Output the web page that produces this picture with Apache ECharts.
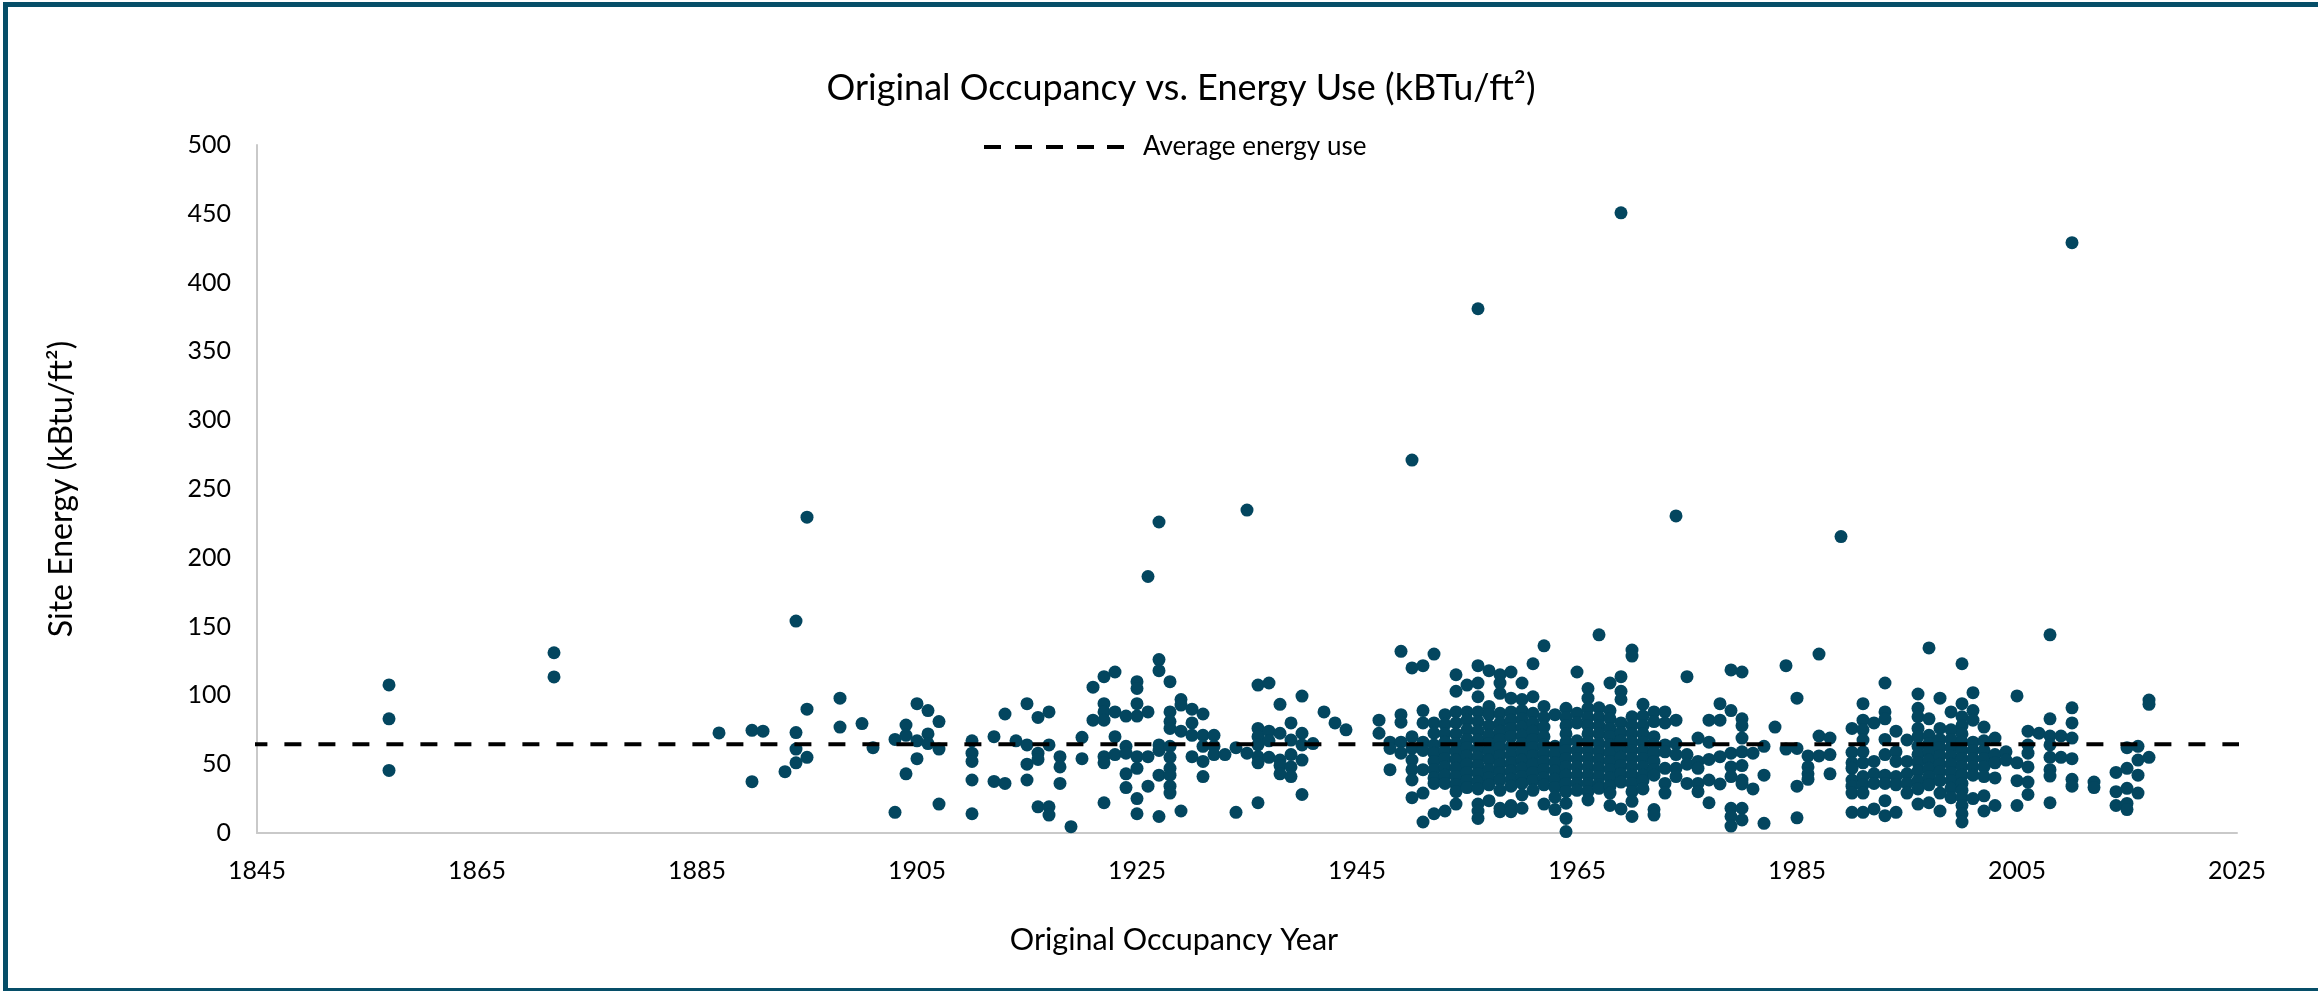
<!DOCTYPE html>
<html><head><meta charset="utf-8">
<style>html,body{margin:0;padding:0;background:#fff;overflow:hidden}#c{width:2318px;height:991px}</style>
<script src="https://cdn.jsdelivr.net/npm/echarts@6/dist/echarts.min.js"></script>
</head><body><div id="c"></div>
<script>
const chartTitle = 'Original Occupancy vs. Energy Use (kBTu/ft²)';
const xTitle = 'Original Occupancy Year';
const yTitle = 'Site Energy (kBtu/ft²)';
const legendLabel = 'Average energy use';
const xTicks = [1845,1865,1885,1905,1925,1945,1965,1985,2005,2025];
const averageEnergy = 64.5;
const averageSpan = [1844.4, 2027];
const occupancyYears = [1857,1872,1887,1890,1891,1893,1894,1895,1898,1900,1901,1903,1904,1905,1906,1907,1910,1912,1913,1914,1915,1916,1917,1918,1919,1920,1921,1922,1923,1924,1925,1926,1927,1928,1929,1930,1931,1932,1933,1934,1935,1936,1937,1938,1939,1940,1941,1942,1943,1944,1947,1948,1949,1950,1951,1952,1953,1954,1955,1956,1957,1958,1959,1960,1961,1962,1963,1964,1965,1966,1967,1968,1969,1970,1971,1972,1973,1974,1975,1976,1977,1978,1979,1980,1981,1982,1983,1984,1985,1986,1987,1988,1989,1990,1991,1992,1993,1994,1995,1996,1997,1998,1999,2000,2001,2002,2003,2004,2005,2006,2007,2008,2009,2010,2012,2014,2015,2016,2017];
const energyByYear = [
[107.6,83,45.5],[131,113.4],[72.7],[74.6,37.3],[74],[44.6],[154,73,61,51],[229.5,90,55],[98,77],[79.5],[62],
[68,15],[78.5,71,43],[94,67,54],[89,72,65],[81,61,21],
[67,58,52,38.5,14],[70,37.5],[86.5,36],[67],[94,64,50,38.5],[84,58,53.5,19],[88,64,19,13],[55.5,48,36],[4.6],[69.5,54],
[106,82],[113.6,94,88,82,55.5,51,22],[117,88,70,57],[85,63,58,43,33],[110,105,94,85,55.5,47,25,14],[186.4,88,55.5,34],
[226,126,118,64,60,42,12],[110,88,81,76,63,55,47,42,34,29],[97,93,74,16],[90,80,71,55.5],[86.5,71,63,52,41],[71,63,57],[57],[62,15],[234.7,58],
[107.5,76,70,64,55.5,51,22],[109,74,67,55],[93.5,72.5,53,49,43],[80,67.5,57,48,41],[99.5,72.5,64,53,28],[65],[88],[80],[75],
[82,72.5],[66,61.5,46],[132,86,80.5,66,58],[271,120,70,61.5,53,46,38.5,25.7],[121.6,89,80,66,60,46,29,8],[130,80,72.5,64,58,52,46,40,36,14],
[86,79,72,66,60,54,48,42,36,16],[115,103,88,80,72,65,59,53,47,41,35,30,21],[107.5,88,82,75,68,62,56,50,44,38,33],
[381,121.6,109,99,88,81,74,67.6,61,55,49,43,37,32,21,16,10.6],[118,92,86,78,71,65,59,53,46,40,35,23.5],[115,109,101.5,87,80,74,68,62,56,50,44,38.5,31,18,15.5],
[117,98,88,82,76,70,63,57,51,45,39,34,20,15.5],[109,97,89,83,77,71,65,59,53,47,41,36,27.6,18],[123,99,87,80,74,68,62,56,50,44,38,31],[136,92,84,77,70,64,58,52,46,40,35,21],
[86,63,57,51,45,39,33,26,17],[90.6,84,78,72,66,60,54,48,42,36,30,21.6,10.6,1],[117,87,80,67,60,54,48,42,36,31],[105,98,90.6,84,78,72,66,60,54,48,42,36,30,24],
[144,91,84,78,72,65,59,53,47,41,35,32.5],[109,89,83,76,70,64,58,52,46,40,34,29,20],[450.7,113.6,103,97,80,73,67,61,55,49,43,37,17.5],[133,128.6,84.5,78,72,66,60,54,48,42,36,30,23,12],
[93.5,85,78,72,66,60,54,48,42,38,32],[88,81,70,64,58,52,46,42,17,13],[88,80,64,59,47,36,29],[230.4,82,65,57,47,41],[113.6,57,50,36],[69,52,47,36,30],
[82,66,53.5,38.5,22],[94,82,55.5,35.6],[118.5,89,58,48,41,18,12,5],[117,83,78,69,59,49,38.5,35.6,18,9.5],[58,32],[63,42,7],[77],
[121.6,61],[98,61.5,34,11],[56,48,43,39],[130,70.5,56],[69,57,43],[215.4],[76,58.6,51,47,38.5,34,29,15],
[94,82,75,67.6,59,51,41,35,29,15],[80,52,43,36,17.5],[109,88,83,68,57,42,36,23.5,12.6],[74,59,52,41,35,15],[67.6,52,43,36,29],
[101,90.6,84.5,76,70,63,57,51,45,38,32,21],[134.5,83,71,65,59,53,47,41,35,22],[98,76,68,62,56,50,44.6,38,29,16],[88,75,68,62,56,50,44,38,32.5,25.7],
[123,94,84.5,78,72,66,60,54,48,42,36,31,26,20,14,8],[102,89,82,66,60,54,48,42,25],[77,67,60,54,48,41,27,16],[69,57,51,40,20],[59,53],[99.6,51,38,20],
[74,64,58,48,37,28],[72.5],[144,83,70.5,64,55,46,41.4,22],[70.5,55],[429,91,80,69,54,39,34],[37,33],[44,30,20],[62,47,32.5,21.5,17],[63,53,42,29],[96.6,93.5,55]
];
const scatterPoints = occupancyYears.flatMap((y,i)=>energyByYear[i].map(v=>[y,v]));
const ink='#000', teal='#03465f', axisGrey='#c9c9c9', frame='#064e68';
const font='Lato,"Liberation Sans",sans-serif';
const chart=echarts.init(document.getElementById('c'));
chart.setOption({
  animation:false, backgroundColor:'#fff',
  title:{text:chartTitle,left:1176,top:65,textAlign:'center',textStyle:{fontFamily:font,fontSize:36,fontWeight:'normal',color:ink}},
  legend:{show:true,left:979,top:129,itemWidth:140,itemHeight:4,itemGap:0,data:[{name:legendLabel,icon:'path://M0 0H17V4H0ZM31 0H48V4H31ZM62 0H79V4H62ZM93 0H110V4H93ZM123 0H140V4H123Z',itemStyle:{color:ink}}],
    textStyle:{fontFamily:font,fontSize:26,color:ink,padding:[0,0,0,14]}},
  grid:{left:257,top:145,width:1980,height:688},
  xAxis:{type:'value',min:1845,max:2025,splitLine:{show:false},axisTick:{show:false},
    axisLine:{show:true,lineStyle:{color:axisGrey,width:2}},
    axisLabel:{customValues:xTicks,margin:25,fontFamily:font,fontSize:25,color:ink,formatter:v=>String(v)},
    name:xTitle,nameLocation:'middle',nameGap:92,nameTextStyle:{fontFamily:font,fontSize:30.5,color:ink,padding:[0,146,0,0]}},
  yAxis:{type:'value',min:0,max:500,interval:50,splitLine:{show:false},axisTick:{show:false},
    axisLine:{show:true,lineStyle:{color:axisGrey,width:2}},
    axisLabel:{margin:26,fontFamily:font,fontSize:25,color:ink},
    name:yTitle,nameLocation:'middle',nameGap:179,nameRotate:90,nameTextStyle:{fontFamily:font,fontSize:32,color:ink}},
  series:[
    {type:'scatter',name:'Buildings',data:scatterPoints,symbol:'circle',symbolSize:13,itemStyle:{color:teal,opacity:1},clip:false,z:2},
    {type:'line',name:legendLabel,data:averageSpan.map(x=>[x,averageEnergy]),symbol:'none',clip:false,z:3,
      lineStyle:{color:ink,width:4,type:[17,17]}}
  ],
  graphic:[
    {type:'rect',z:100,silent:true,shape:{x:3,y:2,width:5,height:989},style:{fill:frame}},
    {type:'rect',z:100,silent:true,shape:{x:3,y:2,width:2315,height:5},style:{fill:frame}},
    {type:'rect',z:100,silent:true,shape:{x:3,y:988,width:2315,height:3},style:{fill:frame}}
  ]
});
</script></body></html>
